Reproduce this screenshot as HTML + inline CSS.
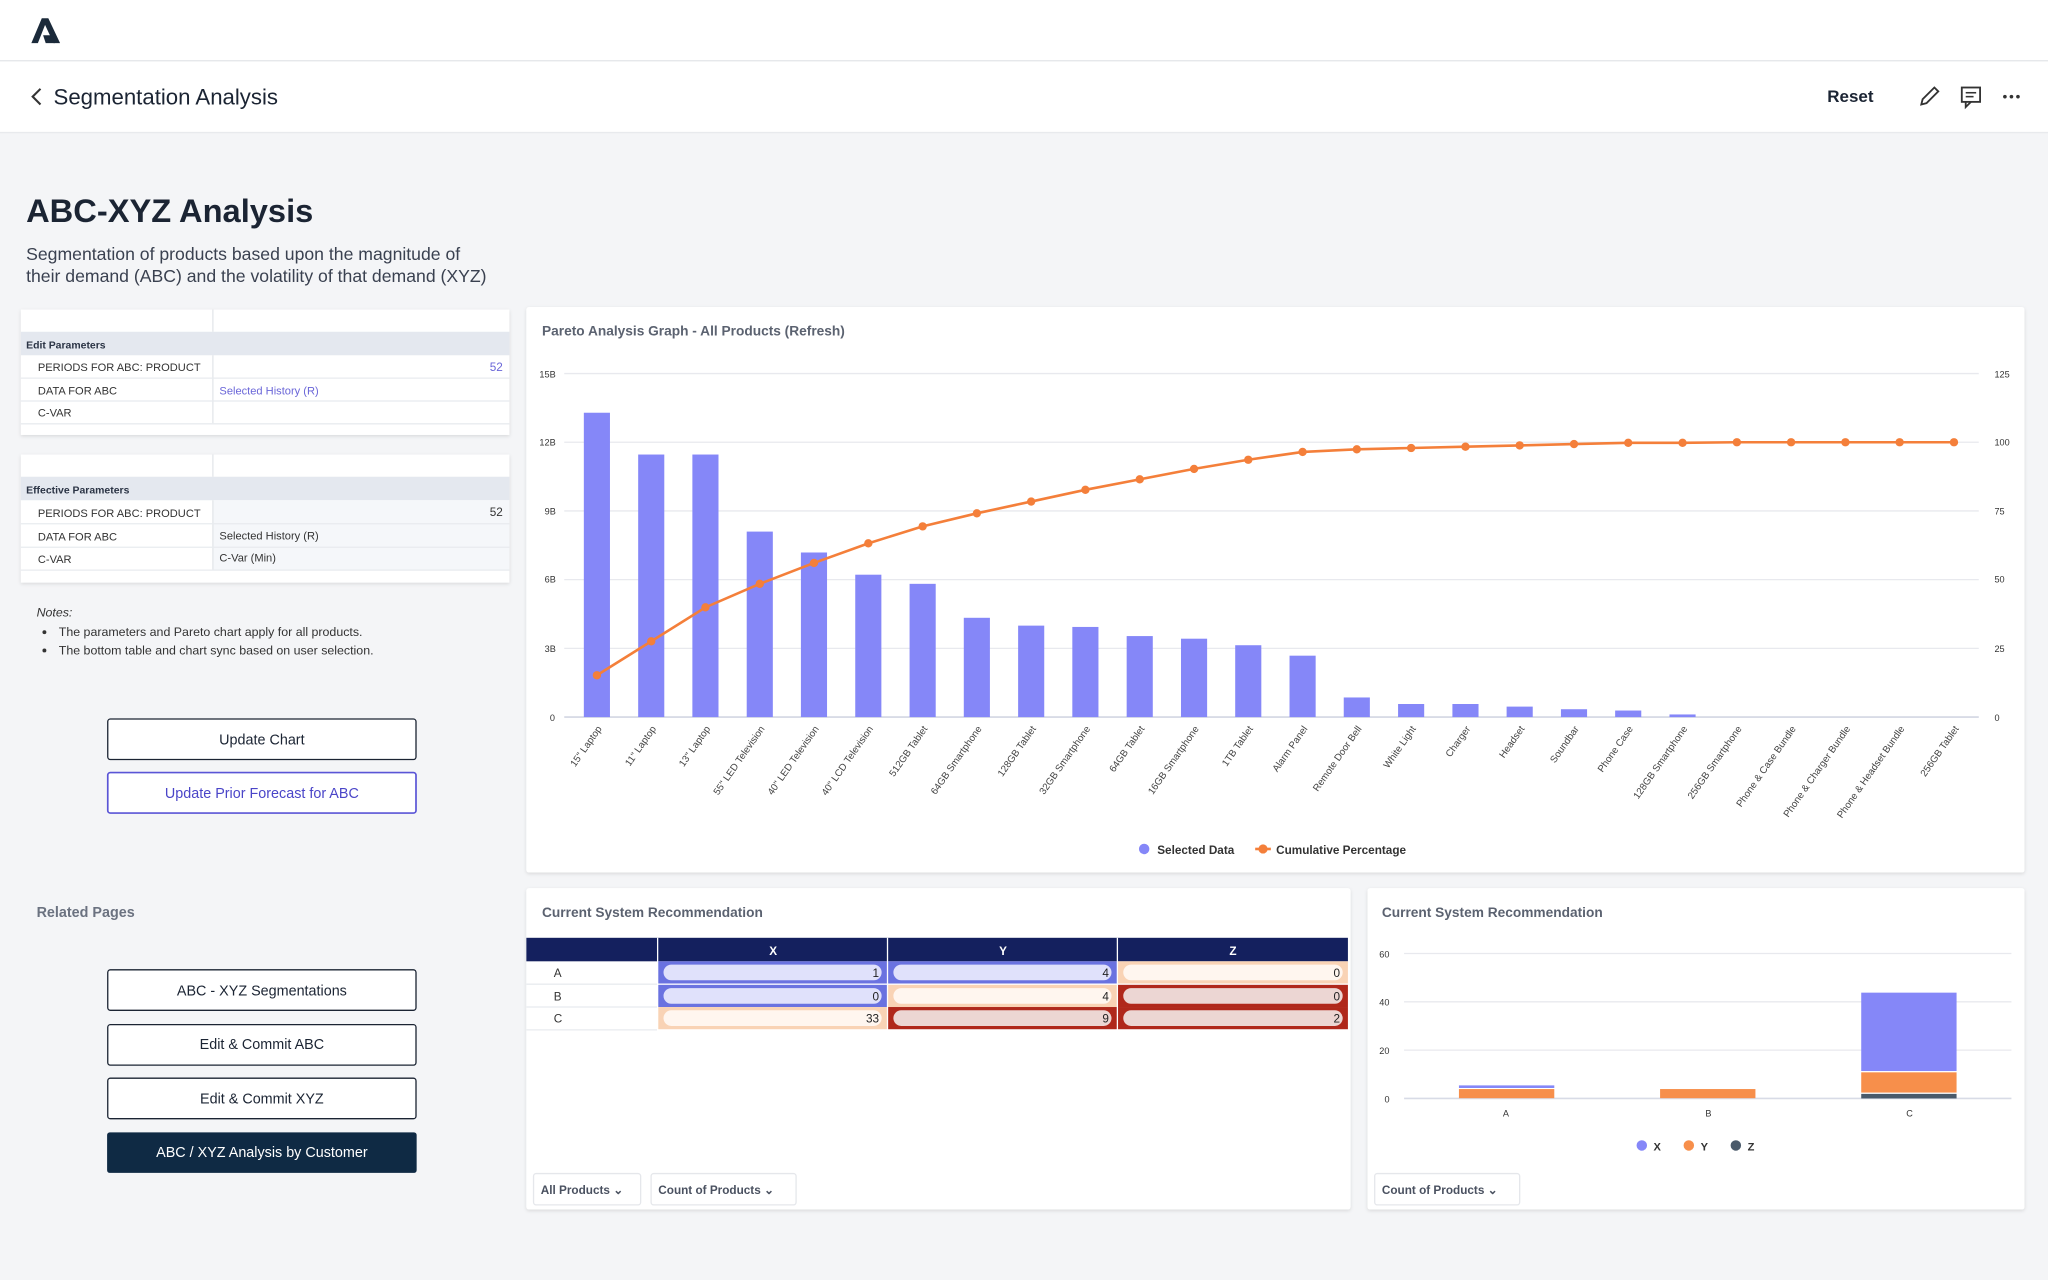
<!DOCTYPE html>
<html><head><meta charset="utf-8"><style>html,body{margin:0;padding:0;background:#f4f5f7}svg{display:block}text{font-family:"Liberation Sans",sans-serif}</style></head><body>
<svg width="2048" height="1280" viewBox="0 0 1568 980" xmlns="http://www.w3.org/2000/svg">
<defs><filter id="sh" x="-5%" y="-5%" width="110%" height="110%"><feDropShadow dx="0" dy="1" stdDeviation="1.5" flood-color="#000" flood-opacity="0.12"/></filter></defs>
<rect width="1568" height="980" fill="#f4f5f7"/>
<!-- top bar -->
<rect width="1568" height="101" fill="#fff"/>
<line x1="0" y1="46.5" x2="1568" y2="46.5" stroke="#e3e5e8"/>
<line x1="0" y1="101.5" x2="1568" y2="101.5" stroke="#e8eaed"/>
<polygon points="24,33 32,14 37,14 46,33 41,33 34.5,19 29,33" fill="#1b2a3a"/>
<polygon points="33,27 40,27 42,33 35,33" fill="#1b2a3a"/>
<polyline points="31,68 25,74 31,80" fill="none" stroke="#333" stroke-width="1.6"/>
<text x="41" y="80" font-size="17" fill="#1b2433">Segmentation Analysis</text>
<text x="1399" y="78" font-size="13" font-weight="bold" fill="#1b2433">Reset</text>
<path d="M1471,80 L1472,76 L1481,67 L1484,70 L1475,79 Z" fill="none" stroke="#333" stroke-width="1.4"/>
<rect x="1502" y="67" width="14" height="11" fill="none" stroke="#333" stroke-width="1.4"/>
<polyline points="1505,78 1505,82 1509,78" fill="none" stroke="#333" stroke-width="1.4"/>
<line x1="1505" y1="71" x2="1513" y2="71" stroke="#333" stroke-width="1.2"/><line x1="1505" y1="74" x2="1511" y2="74" stroke="#333" stroke-width="1.2"/>
<circle cx="1535" cy="74" r="1.4" fill="#333"/><circle cx="1540" cy="74" r="1.4" fill="#333"/><circle cx="1545" cy="74" r="1.4" fill="#333"/>
<!-- heading -->
<text x="20" y="170" font-size="25" font-weight="bold" fill="#1b2433">ABC-XYZ Analysis</text>
<text x="20" y="199" font-size="13.5" fill="#3a4150">Segmentation of products based upon the magnitude of</text>
<text x="20" y="216" font-size="13.5" fill="#3a4150">their demand (ABC) and the volatility of that demand (XYZ)</text>
<!-- edit params -->
<g filter="url(#sh)"><rect x="16" y="237" width="374" height="96" fill="#fff"/></g>
<rect x="16" y="254" width="374" height="18" fill="#e4e8ef"/>
<line x1="163" y1="237" x2="163" y2="254" stroke="#e3e6ea"/><line x1="163" y1="272" x2="163" y2="324" stroke="#e3e6ea"/>
<line x1="16" y1="289.5" x2="390" y2="289.5" stroke="#e8ebef"/><line x1="16" y1="307" x2="390" y2="307" stroke="#e8ebef"/><line x1="16" y1="324.5" x2="390" y2="324.5" stroke="#e8ebef"/>
<text x="20" y="267" font-size="8" font-weight="bold" fill="#2b3445">Edit Parameters</text>
<g font-size="8.5" fill="#333"><text x="29" y="284">PERIODS FOR ABC: PRODUCT</text><text x="29" y="302">DATA FOR ABC</text><text x="29" y="319">C-VAR</text></g>
<text x="385" y="284" font-size="9" fill="#6a66d8" text-anchor="end">52</text>
<text x="168" y="302" font-size="8.5" fill="#6a66d8">Selected History (R)</text>
<!-- effective -->
<g filter="url(#sh)"><rect x="16" y="348" width="374" height="98" fill="#fff"/></g>
<rect x="16" y="365" width="374" height="18" fill="#e4e8ef"/>
<rect x="163" y="383" width="227" height="53" fill="#f5f7fa"/>
<line x1="163" y1="348" x2="163" y2="365" stroke="#e3e6ea"/><line x1="163" y1="383" x2="163" y2="436" stroke="#e3e6ea"/>
<line x1="16" y1="401" x2="390" y2="401" stroke="#e8ebef"/><line x1="16" y1="419" x2="390" y2="419" stroke="#e8ebef"/><line x1="16" y1="436.5" x2="390" y2="436.5" stroke="#e8ebef"/>
<text x="20" y="378" font-size="8" font-weight="bold" fill="#2b3445">Effective Parameters</text>
<g font-size="8.5" fill="#333"><text x="29" y="396">PERIODS FOR ABC: PRODUCT</text><text x="29" y="414">DATA FOR ABC</text><text x="29" y="431">C-VAR</text>
<text x="385" y="395" font-size="9" text-anchor="end">52</text><text x="168" y="413">Selected History (R)</text><text x="168" y="430">C-Var (Min)</text></g>
<!-- notes -->
<text x="28" y="472" font-size="9.5" font-style="italic" fill="#333">Notes:</text>
<circle cx="34" cy="484" r="1.5" fill="#333"/><circle cx="34" cy="498" r="1.5" fill="#333"/>
<text x="45" y="487" font-size="9.5" fill="#333">The parameters and Pareto chart apply for all products.</text>
<text x="45" y="501" font-size="9.5" fill="#333">The bottom table and chart sync based on user selection.</text>
<!-- buttons -->
<rect x="82.5" y="550.5" width="236" height="31" rx="2" fill="#fff" stroke="#1b2433"/>
<text x="200.5" y="570" font-size="11" fill="#1b2433" text-anchor="middle">Update Chart</text>
<rect x="82.5" y="591.5" width="236" height="31" rx="2" fill="#fff" stroke="#5a55d6" stroke-width="1.3"/>
<text x="200.5" y="611" font-size="11" fill="#4a45c8" text-anchor="middle">Update Prior Forecast for ABC</text>
<text x="28" y="702" font-size="11" font-weight="bold" fill="#6b7280">Related Pages</text>
<rect x="82.5" y="742.5" width="236" height="31" rx="2" fill="#fff" stroke="#1b2433"/>
<text x="200.5" y="762" font-size="11" fill="#1b2433" text-anchor="middle">ABC - XYZ Segmentations</text>
<rect x="82.5" y="784.5" width="236" height="31" rx="2" fill="#fff" stroke="#1b2433"/>
<text x="200.5" y="803" font-size="11" fill="#1b2433" text-anchor="middle">Edit &amp; Commit ABC</text>
<rect x="82.5" y="825.5" width="236" height="31" rx="2" fill="#fff" stroke="#1b2433"/>
<text x="200.5" y="845" font-size="11" fill="#1b2433" text-anchor="middle">Edit &amp; Commit XYZ</text>
<rect x="82" y="867" width="237" height="31" rx="2" fill="#0f2a44"/>
<text x="200.5" y="886" font-size="11" fill="#fff" text-anchor="middle">ABC / XYZ Analysis by Customer</text>
<!-- pareto card -->
<g filter="url(#sh)"><rect x="403" y="235" width="1147" height="433" rx="2" fill="#fff"/></g>
<text x="415" y="257" font-size="10.5" font-weight="bold" fill="#5b6270">Pareto Analysis Graph - All Products (Refresh)</text>
<g stroke="#e8e9ee" stroke-width="1"><line x1="432" y1="286" x2="1515" y2="286"/><line x1="432" y1="338.6" x2="1515" y2="338.6"/><line x1="432" y1="391.2" x2="1515" y2="391.2"/><line x1="432" y1="443.8" x2="1515" y2="443.8"/><line x1="432" y1="496.4" x2="1515" y2="496.4"/></g>
<line x1="432" y1="549" x2="1515" y2="549" stroke="#d8dbe6" stroke-width="1.5"/>
<g font-size="7" fill="#333"><text x="413" y="289">15B</text><text x="413" y="341">12B</text><text x="417" y="394">9B</text><text x="417" y="446">6B</text><text x="417" y="499">3B</text><text x="421" y="552">0</text>
<text x="1527" y="289">125</text><text x="1527" y="341">100</text><text x="1527" y="394">75</text><text x="1527" y="446">50</text><text x="1527" y="499">25</text><text x="1527" y="552">0</text></g>
<g fill="#8587f8">
<rect x="447" y="316" width="20" height="233"/><rect x="488.6" y="348" width="20" height="201"/><rect x="530.1" y="348" width="20" height="201"/><rect x="571.7" y="407" width="20" height="142"/><rect x="613.2" y="423" width="20" height="126"/><rect x="654.8" y="440" width="20" height="109"/><rect x="696.4" y="447" width="20" height="102"/><rect x="737.9" y="473" width="20" height="76"/><rect x="779.5" y="479" width="20" height="70"/><rect x="821" y="480" width="20" height="69"/><rect x="862.6" y="487" width="20" height="62"/><rect x="904.2" y="489" width="20" height="60"/><rect x="945.7" y="494" width="20" height="55"/><rect x="987.3" y="502" width="20" height="47"/><rect x="1028.8" y="534" width="20" height="15"/><rect x="1070.4" y="539" width="20" height="10"/><rect x="1112" y="539" width="20" height="10"/><rect x="1153.5" y="541" width="20" height="8"/><rect x="1195.1" y="543" width="20" height="6"/><rect x="1236.6" y="544" width="20" height="5"/><rect x="1278.2" y="547" width="20" height="2"/>
</g>
<polyline fill="none" stroke="#f47f3a" stroke-width="2" points="457,517 498.6,491 540.1,465 581.7,447 623.2,431 664.8,416 706.4,403 747.9,393 789.5,384 831,375 872.6,367 914.2,359 955.7,352 997.3,346 1038.8,344 1080.4,343 1122,342 1163.5,341 1205.1,340 1246.6,339 1288.2,339 1329.8,338.6 1371.3,338.6 1412.9,338.6 1454.4,338.6 1496,338.6"/>
<g fill="#f47f3a"><circle cx="457" cy="517" r="3.2"/><circle cx="498.6" cy="491" r="3.2"/><circle cx="540.1" cy="465" r="3.2"/><circle cx="581.7" cy="447" r="3.2"/><circle cx="623.2" cy="431" r="3.2"/><circle cx="664.8" cy="416" r="3.2"/><circle cx="706.4" cy="403" r="3.2"/><circle cx="747.9" cy="393" r="3.2"/><circle cx="789.5" cy="384" r="3.2"/><circle cx="831" cy="375" r="3.2"/><circle cx="872.6" cy="367" r="3.2"/><circle cx="914.2" cy="359" r="3.2"/><circle cx="955.7" cy="352" r="3.2"/><circle cx="997.3" cy="346" r="3.2"/><circle cx="1038.8" cy="344" r="3.2"/><circle cx="1080.4" cy="343" r="3.2"/><circle cx="1122" cy="342" r="3.2"/><circle cx="1163.5" cy="341" r="3.2"/><circle cx="1205.1" cy="340" r="3.2"/><circle cx="1246.6" cy="339" r="3.2"/><circle cx="1288.2" cy="339" r="3.2"/><circle cx="1329.8" cy="338.6" r="3.2"/><circle cx="1371.3" cy="338.6" r="3.2"/><circle cx="1412.9" cy="338.6" r="3.2"/><circle cx="1454.4" cy="338.6" r="3.2"/><circle cx="1496" cy="338.6" r="3.2"/></g>
<g font-size="7.5" fill="#444" text-anchor="end">
<text transform="translate(461,558) rotate(-55)">15" Laptop</text>
<text transform="translate(502.6,558) rotate(-55)">11" Laptop</text>
<text transform="translate(544.1,558) rotate(-55)">13" Laptop</text>
<text transform="translate(585.7,558) rotate(-55)">55" LED Television</text>
<text transform="translate(627.2,558) rotate(-55)">40" LED Television</text>
<text transform="translate(668.8,558) rotate(-55)">40" LCD Television</text>
<text transform="translate(710.4,558) rotate(-55)">512GB Tablet</text>
<text transform="translate(751.9,558) rotate(-55)">64GB Smartphone</text>
<text transform="translate(793.5,558) rotate(-55)">128GB Tablet</text>
<text transform="translate(835,558) rotate(-55)">32GB Smartphone</text>
<text transform="translate(876.6,558) rotate(-55)">64GB Tablet</text>
<text transform="translate(918.2,558) rotate(-55)">16GB Smartphone</text>
<text transform="translate(959.7,558) rotate(-55)">1TB Tablet</text>
<text transform="translate(1001.3,558) rotate(-55)">Alarm Panel</text>
<text transform="translate(1042.8,558) rotate(-55)">Remote Door Bell</text>
<text transform="translate(1084.4,558) rotate(-55)">White Light</text>
<text transform="translate(1126,558) rotate(-55)">Charger</text>
<text transform="translate(1167.5,558) rotate(-55)">Headset</text>
<text transform="translate(1209.1,558) rotate(-55)">Soundbar</text>
<text transform="translate(1250.6,558) rotate(-55)">Phone Case</text>
<text transform="translate(1292.2,558) rotate(-55)">128GB Smartphone</text>
<text transform="translate(1333.8,558) rotate(-55)">256GB Smartphone</text>
<text transform="translate(1375.3,558) rotate(-55)">Phone &amp; Case Bundle</text>
<text transform="translate(1416.9,558) rotate(-55)">Phone &amp; Charger Bundle</text>
<text transform="translate(1458.4,558) rotate(-55)">Phone &amp; Headset Bundle</text>
<text transform="translate(1500,558) rotate(-55)">256GB Tablet</text>
</g>
<circle cx="876" cy="650" r="4" fill="#8587f8"/><text x="886" y="654" font-size="9" font-weight="bold" fill="#333">Selected Data</text>
<line x1="961" y1="650" x2="973" y2="650" stroke="#f47f3a" stroke-width="2"/><circle cx="967" cy="650" r="3.5" fill="#f47f3a"/><text x="977" y="654" font-size="9" font-weight="bold" fill="#333">Cumulative Percentage</text>
<!-- table card -->
<g filter="url(#sh)"><rect x="403" y="680" width="631" height="246" rx="2" fill="#fff"/></g>
<text x="415" y="702" font-size="10.5" font-weight="bold" fill="#5b6270">Current System Recommendation</text>
<rect x="403" y="718" width="629" height="18" fill="#14205e"/>
<g stroke="#fff"><line x1="503.5" y1="718" x2="503.5" y2="788"/><line x1="679.5" y1="718" x2="679.5" y2="788"/><line x1="855.5" y1="718" x2="855.5" y2="788"/></g>
<g font-size="9" font-weight="bold" fill="#fff" text-anchor="middle"><text x="592" y="731">X</text><text x="768" y="731">Y</text><text x="944" y="731">Z</text></g>
<line x1="403" y1="753.5" x2="503" y2="753.5" stroke="#e8ebef"/><line x1="403" y1="771" x2="503" y2="771" stroke="#e8ebef"/><line x1="403" y1="788.5" x2="503" y2="788.5" stroke="#e8ebef"/>
<g font-size="9" fill="#333"><text x="424" y="748">A</text><text x="424" y="766">B</text><text x="424" y="783">C</text></g>
<!-- cells -->
<g>
<rect x="504" y="736" width="175" height="17" fill="#6a72e0"/><rect x="508" y="738.5" width="167" height="12" rx="6" fill="#e0e1fb"/>
<rect x="680" y="736" width="175" height="17" fill="#6a72e0"/><rect x="684" y="738.5" width="167" height="12" rx="6" fill="#e0e1fb"/>
<rect x="856" y="736" width="176" height="17" fill="#f9d3b5"/><rect x="860" y="738.5" width="168" height="12" rx="6" fill="#fff6ef"/>
<rect x="504" y="754" width="175" height="17" fill="#6a72e0"/><rect x="508" y="756.5" width="167" height="12" rx="6" fill="#e0e1fb"/>
<rect x="680" y="754" width="175" height="17" fill="#f9d3b5"/><rect x="684" y="756.5" width="167" height="12" rx="6" fill="#fff6ef"/>
<rect x="856" y="754" width="176" height="17" fill="#b0281b"/><rect x="860" y="756.5" width="168" height="12" rx="6" fill="#ecd6d3"/>
<rect x="504" y="771" width="175" height="17" fill="#f9d3b5"/><rect x="508" y="773.5" width="167" height="12" rx="6" fill="#fff6ef"/>
<rect x="680" y="771" width="175" height="17" fill="#b0281b"/><rect x="684" y="773.5" width="167" height="12" rx="6" fill="#ecd6d3"/>
<rect x="856" y="771" width="176" height="17" fill="#b0281b"/><rect x="860" y="773.5" width="168" height="12" rx="6" fill="#ecd6d3"/>
</g>
<g font-size="9" fill="#222" text-anchor="end"><text x="673" y="748">1</text><text x="849" y="748">4</text><text x="1026" y="748">0</text><text x="673" y="766">0</text><text x="849" y="766">4</text><text x="1026" y="766">0</text><text x="673" y="783">33</text><text x="849" y="783">9</text><text x="1026" y="783">2</text></g>
<rect x="408.5" y="898.5" width="82" height="24" rx="2" fill="#fff" stroke="#e5e7eb"/><text x="414" y="914" font-size="9" font-weight="bold" fill="#4a5160">All Products ⌄</text>
<rect x="498.5" y="898.5" width="111" height="24" rx="2" fill="#fff" stroke="#e5e7eb"/><text x="504" y="914" font-size="9" font-weight="bold" fill="#4a5160">Count of Products ⌄</text>
<!-- stacked chart card -->
<g filter="url(#sh)"><rect x="1047" y="680" width="503" height="246" rx="2" fill="#fff"/></g>
<text x="1058" y="702" font-size="10.5" font-weight="bold" fill="#5b6270">Current System Recommendation</text>
<g stroke="#e8e9ee"><line x1="1075" y1="730" x2="1540" y2="730"/><line x1="1075" y1="767" x2="1540" y2="767"/><line x1="1075" y1="804" x2="1540" y2="804"/></g>
<line x1="1075" y1="841" x2="1540" y2="841" stroke="#d8dbe6" stroke-width="1.2"/>
<g font-size="7" fill="#333"><text x="1056" y="733">60</text><text x="1056" y="770">40</text><text x="1056" y="807">20</text><text x="1060" y="844">0</text></g>
<rect x="1117" y="833.8" width="73" height="7" fill="#f78f4b"/><rect x="1117" y="831" width="73" height="2" fill="#8587f8"/>
<rect x="1271" y="833.8" width="73" height="7" fill="#f78f4b"/>
<rect x="1425" y="837.5" width="73" height="3.5" fill="#4a5a6a"/><rect x="1425" y="821" width="73" height="15.5" fill="#f78f4b"/><rect x="1425" y="760" width="73" height="60" fill="#8587f8"/>
<g font-size="7" fill="#333" text-anchor="middle"><text x="1153" y="855">A</text><text x="1308" y="855">B</text><text x="1462" y="855">C</text></g>
<circle cx="1257" cy="877" r="4" fill="#8587f8"/><text x="1266" y="881" font-size="8.5" font-weight="bold" fill="#333">X</text>
<circle cx="1293" cy="877" r="4" fill="#f78f4b"/><text x="1302" y="881" font-size="8.5" font-weight="bold" fill="#333">Y</text>
<circle cx="1329" cy="877" r="4" fill="#4a5a6a"/><text x="1338" y="881" font-size="8.5" font-weight="bold" fill="#333">Z</text>
<rect x="1052.5" y="898.5" width="111" height="24" rx="2" fill="#fff" stroke="#e5e7eb"/><text x="1058" y="914" font-size="9" font-weight="bold" fill="#4a5160">Count of Products ⌄</text>
</svg>
</body></html>
